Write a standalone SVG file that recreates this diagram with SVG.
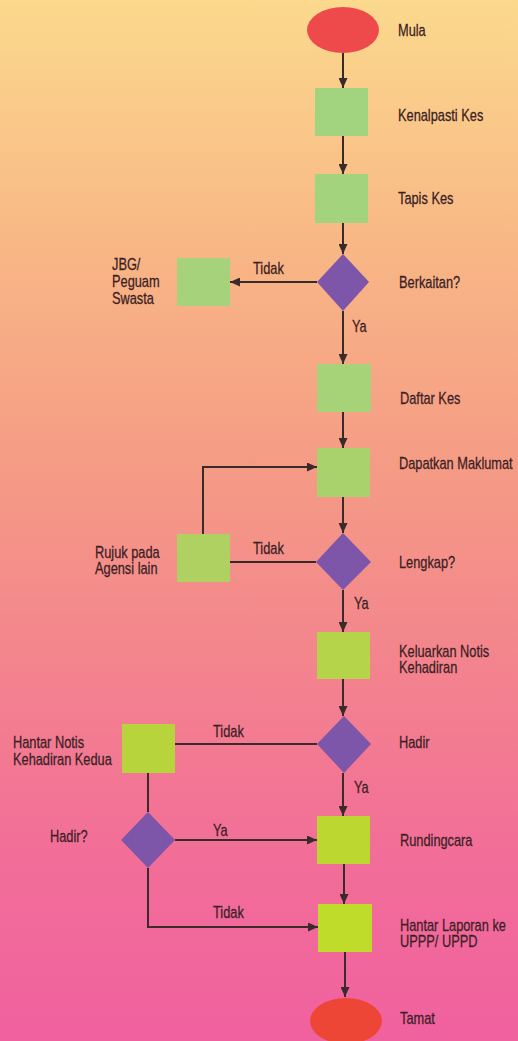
<svg xmlns="http://www.w3.org/2000/svg" width="518" height="1041" viewBox="0 0 518 1041">
<defs>
<linearGradient id="bg" x1="0" y1="0" x2="0" y2="1">
<stop offset="0" stop-color="#fbd98d"/>
<stop offset="0.25" stop-color="#f8b585"/>
<stop offset="0.45" stop-color="#f59b85"/>
<stop offset="0.65" stop-color="#f3828e"/>
<stop offset="0.82" stop-color="#f26e98"/>
<stop offset="1" stop-color="#f0619f"/>
</linearGradient>
<marker id="ah" markerUnits="userSpaceOnUse" markerWidth="10" markerHeight="9" refX="10" refY="4.5" orient="auto">
<path d="M0,0 L10,4.5 L0,9 z" fill="#3b2a2a"/>
</marker>
<style>
.t{font-family:"Liberation Sans",Arial,sans-serif;font-size:16px;fill:#3a2024;stroke:#3a2024;stroke-width:0.25}
.c{fill:none;stroke:#3b2a2a;stroke-width:2}
.a{marker-end:url(#ah)}
.dm{fill:#7e56a9}
.el{fill:#ee4a4c}
</style>
</defs>
<rect width="518" height="1041" fill="url(#bg)"/>

<g id="connectors">
<line class="c a" x1="343" y1="53" x2="343" y2="88"/>
<line class="c a" x1="343" y1="136" x2="343" y2="174"/>
<line class="c a" x1="343" y1="223" x2="343" y2="254"/>
<line class="c a" x1="317" y1="282" x2="230" y2="282"/>
<text class="t" transform="translate(253,274) scale(0.8,1)">Tidak</text>
<line class="c a" x1="343" y1="311" x2="343" y2="364"/>
<text class="t" transform="translate(352,332) scale(0.8,1)">Ya</text>
<line class="c a" x1="343" y1="412" x2="343" y2="448"/>
<line class="c a" x1="343" y1="497" x2="343" y2="533"/>
<line class="c" x1="316" y1="562" x2="230" y2="562"/>
<text class="t" transform="translate(253,554) scale(0.8,1)">Tidak</text>
<path class="c a" d="M203,534 V467 H317"/>
<line class="c a" x1="343" y1="590" x2="343" y2="632"/>
<text class="t" transform="translate(354,609) scale(0.8,1)">Ya</text>
<line class="c a" x1="343" y1="679" x2="343" y2="716"/>
<line class="c" x1="317" y1="744" x2="175" y2="744"/>
<text class="t" transform="translate(213,737) scale(0.8,1)">Tidak</text>
<line class="c a" x1="343" y1="773" x2="343" y2="816"/>
<text class="t" transform="translate(354,793) scale(0.8,1)">Ya</text>
<line class="c" x1="148" y1="773" x2="148" y2="812"/>
<line class="c a" x1="175" y1="840" x2="317" y2="840"/>
<text class="t" transform="translate(213,836) scale(0.8,1)">Ya</text>
<path class="c a" d="M148,868 V927 H318"/>
<text class="t" transform="translate(213,918) scale(0.8,1)">Tidak</text>
<line class="c a" x1="344" y1="864" x2="344" y2="904"/>
<line class="c a" x1="345" y1="952" x2="345" y2="997"/>
</g>

<g id="mula">
<ellipse class="el" cx="343" cy="30" rx="36" ry="23"/>
<text class="t" transform="translate(398,36) scale(0.8,1)">Mula</text>
</g>
<g id="kenalpasti">
<rect x="315" y="88" width="53" height="48" fill="#a2d37e"/>
<text class="t" transform="translate(398,121) scale(0.8,1)">Kenalpasti Kes</text>
</g>
<g id="tapis">
<rect x="315" y="174" width="53" height="49" fill="#a3d37c"/>
<text class="t" transform="translate(398,204) scale(0.8,1)">Tapis Kes</text>
</g>
<g id="berkaitan">
<polygon class="dm" points="343,254 369,282 343,311 317,282"/>
<text class="t" transform="translate(399,288) scale(0.8,1)">Berkaitan?</text>
</g>
<g id="jbg">
<rect x="177" y="258" width="53" height="48" fill="#a5d27a"/>
<text class="t" transform="translate(112,270) scale(0.8,1)">JBG/</text>
<text class="t" transform="translate(112,287) scale(0.8,1)">Peguam</text>
<text class="t" transform="translate(112,304) scale(0.8,1)">Swasta</text>
</g>
<g id="daftar">
<rect x="317" y="364" width="54" height="48" fill="#a6d278"/>
<text class="t" transform="translate(400,404) scale(0.8,1)">Daftar Kes</text>
</g>
<g id="dapatkan">
<rect x="317" y="448" width="53" height="49" fill="#a9d26c"/>
<text class="t" transform="translate(399,469) scale(0.8,1)">Dapatkan Maklumat</text>
</g>
<g id="lengkap">
<polygon class="dm" points="343,533 371,562 343,590 316,562"/>
<text class="t" transform="translate(399,568) scale(0.8,1)">Lengkap?</text>
</g>
<g id="rujuk">
<rect x="177" y="534" width="53" height="48" fill="#aed162"/>
<text class="t" transform="translate(95,558) scale(0.8,1)">Rujuk pada</text>
<text class="t" transform="translate(95,574) scale(0.8,1)">Agensi lain</text>
</g>
<g id="keluarkan">
<rect x="317" y="632" width="53" height="47" fill="#b5d449"/>
<text class="t" transform="translate(399,657) scale(0.8,1)">Keluarkan Notis</text>
<text class="t" transform="translate(399,673) scale(0.8,1)">Kehadiran</text>
</g>
<g id="hadir">
<polygon class="dm" points="344,716 371,744 344,773 317,744"/>
<text class="t" transform="translate(399,748) scale(0.8,1)">Hadir</text>
</g>
<g id="hantar-notis">
<rect x="122" y="724" width="53" height="49" fill="#b8d43c"/>
<text class="t" transform="translate(13,748) scale(0.8,1)">Hantar Notis</text>
<text class="t" transform="translate(13,765) scale(0.8,1)">Kehadiran Kedua</text>
</g>
<g id="hadir2">
<polygon class="dm" points="148,812 175,840 148,868 121,840"/>
<text class="t" transform="translate(50,842) scale(0.8,1)">Hadir?</text>
</g>
<g id="rundingcara">
<rect x="317" y="816" width="53" height="48" fill="#bcd730"/>
<text class="t" transform="translate(400,846) scale(0.8,1)">Rundingcara</text>
</g>
<g id="hantar-laporan">
<rect x="318" y="904" width="54" height="48" fill="#c0dc2a"/>
<text class="t" transform="translate(400,931) scale(0.8,1)">Hantar Laporan ke</text>
<text class="t" transform="translate(400,947) scale(0.8,1)">UPPP/ UPPD</text>
</g>
<g id="tamat">
<ellipse cx="346" cy="1021" rx="36" ry="23" fill="#ee4636"/>
<text class="t" transform="translate(400,1024) scale(0.8,1)">Tamat</text>
</g>
</svg>
